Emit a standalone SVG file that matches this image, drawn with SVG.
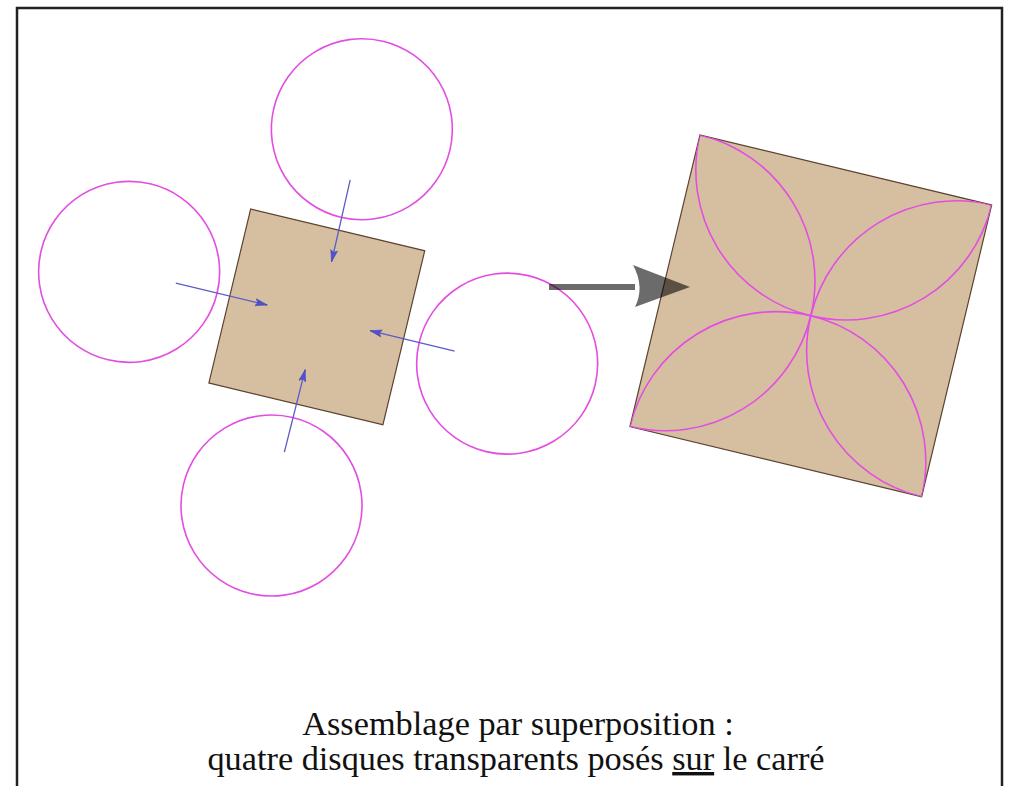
<svg xmlns="http://www.w3.org/2000/svg" width="1012" height="786" viewBox="0 0 1012 786">
<style>
.disc{fill:none;stroke:#e24ee2;stroke-width:1.6}
.sq{fill:#d6bfa1;stroke:#5b4330;stroke-width:1.2}
.push{stroke:#5b5bc8;stroke-width:1.3;fill:none;marker-end:url(#ah)}
.cap{font-size:34.3px;fill:#111;text-anchor:middle}
</style>
<defs>
<marker id="ah" markerWidth="13" markerHeight="9" refX="12" refY="4.5" orient="auto" markerUnits="userSpaceOnUse">
<path d="M0,1 L12,4.5 L0,8 L2.5,4.5 Z" fill="#5050d0" stroke="#4848b8" stroke-width="0.6"/>
</marker>
<clipPath id="clipR">
<rect x="-150" y="-150" width="300" height="300"/>
</clipPath>
</defs>
<rect x="17" y="8" width="985" height="790" fill="#fff" stroke="#222" stroke-width="2.5"/>
<g id="left-assembly" transform="translate(316.8,316.9) rotate(13.5)">
<g id="square-left"><rect class="sq" x="-89.5" y="-89.5" width="179" height="179"/></g>
<g id="disc-top"><circle class="disc" cx="0" cy="-193" r="90.5"/></g>
<g id="disc-left"><circle class="disc" cx="-193" cy="0" r="90.5"/></g>
<g id="disc-right"><circle class="disc" cx="196" cy="1" r="90.5"/></g>
<g id="disc-bottom"><circle class="disc" cx="0" cy="194" r="90.5"/></g>
<g id="connectors-left">
<line class="push" x1="0.5" y1="-141" x2="1.5" y2="-57"/>
<line class="push" x1="-145" y1="0" x2="-51" y2="0"/>
<line class="push" x1="142" y1="1" x2="55" y2="1"/>
<line class="push" x1="0" y1="139" x2="1" y2="54"/>
</g>
</g>
<g id="result" transform="translate(810.8,315.8) rotate(13.5)">
<g id="square-right"><rect class="sq" x="-150" y="-150" width="300" height="300"/></g>
<g id="petals" clip-path="url(#clipR)">
<circle class="disc" cx="0" cy="-150" r="150"/>
<circle class="disc" cx="-150" cy="0" r="150"/>
<circle class="disc" cx="150" cy="0" r="150"/>
<circle class="disc" cx="0" cy="150" r="150"/>
</g>
</g>
<g id="connectors">
<g id="big-arrow" fill="#000" fill-opacity="0.58">
<rect x="549" y="284" width="86" height="6"/>
<path d="M633,265 L690,287 L635,307 Q645,287 633,265 Z"/>
</g>
</g>
<g id="caption">
<text class="cap" font-family="'Liberation Serif', 'DejaVu Serif', serif" x="518" y="735">Assemblage par superposition :</text>
<text class="cap" font-family="'Liberation Serif', 'DejaVu Serif', serif" x="516" y="770">quatre disques transparents posés <tspan text-decoration="underline">sur</tspan> le carré</text>
</g>
</svg>
